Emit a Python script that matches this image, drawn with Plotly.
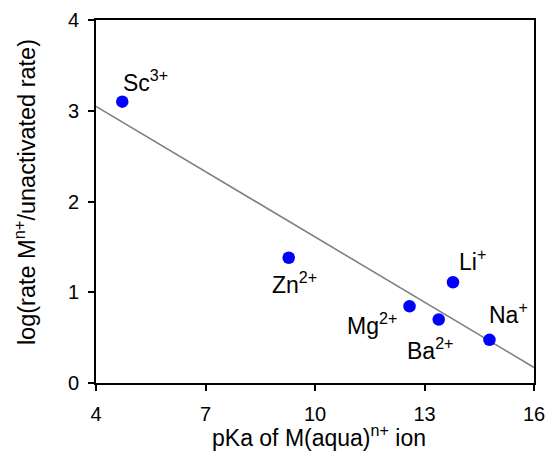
import numpy as np
import plotly.graph_objects as go

ions = ["Sc<sup>3+</sup>", "Zn<sup>2+</sup>", "Mg<sup>2+</sup>", "Ba<sup>2+</sup>", "Li<sup>+</sup>", "Na<sup>+</sup>"]
pka = [4.72, 9.28, 12.59, 13.39, 13.78, 14.78]
log_rate = [3.10, 1.38, 0.846, 0.70, 1.11, 0.476]
label_x = [5.35, 9.43, 11.55, 13.17, 14.31, 15.30]
label_y = [3.33, 1.10, 0.65, 0.37, 1.35, 0.77]
x_ticks = [4, 7, 10, 13, 16]
y_ticks = [0, 1, 2, 3, 4]
x_title = "pKa of M(aqua)<sup>n+</sup> ion"
y_title = "log(rate M<sup>n+</sup>/unactivated rate)"

slope, intercept = np.polyfit(pka, log_rate, 1)
fit_x = [x_ticks[0], x_ticks[-1]]
fit_y = [slope * v + intercept for v in fit_x]

FONT = "Liberation Sans, Arial, sans-serif"

fig = go.Figure()
fig.add_trace(go.Scatter(x=fit_x, y=fit_y, mode="lines",
                         line=dict(color="#808080", width=1.6), hoverinfo="skip"))
fig.add_trace(go.Scatter(x=pka, y=log_rate, mode="markers",
                         marker=dict(color="#0000FF", size=12.5, line=dict(width=0))))

for t, lx, ly in zip(ions, label_x, label_y):
    fig.add_annotation(x=lx, y=ly, text=t, showarrow=False,
                       font=dict(family=FONT, size=23, color="black"))

fig.add_annotation(xref="paper", yref="paper", x=0.508, y=-0.147, text=x_title,
                   showarrow=False, xanchor="center", yanchor="middle",
                   font=dict(family=FONT, size=23, color="black"))
fig.add_annotation(xref="paper", yref="paper", x=-0.162, y=0.526, text=y_title,
                   showarrow=False, xanchor="center", yanchor="middle", textangle=-90,
                   font=dict(family=FONT, size=23.5, color="black"))

axis_common = dict(showgrid=False, zeroline=False, showline=True, linecolor="black",
                   linewidth=2, mirror=True, ticks="outside", ticklen=6, tickwidth=2,
                   tickcolor="black", automargin=False,
                   tickfont=dict(family=FONT, size=20, color="black"))

fig.update_xaxes(range=[4, 16], tickvals=x_ticks, ticklabelstandoff=6, **axis_common)
fig.update_yaxes(range=[0, 4], tickvals=y_ticks, ticklabelstandoff=5, **axis_common)

fig.update_layout(width=547, height=451, showlegend=False,
                  plot_bgcolor="white", paper_bgcolor="white",
                  margin=dict(l=96, r=13, t=19.5, b=67.5),
                  font=dict(family=FONT, size=20, color="black"))

# remove the page's default 8px body margin so the figure fills the window exactly
fig.write_html("out.html", config={"displayModeBar": False},
               post_script="document.body.style.margin='0px';document.body.style.overflow='hidden';")
